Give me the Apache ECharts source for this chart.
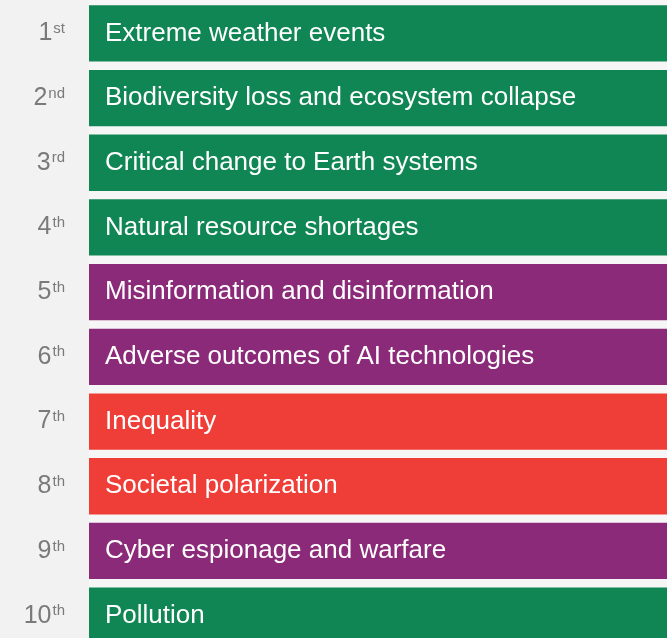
<!DOCTYPE html>
<html><head><meta charset="utf-8">
<script src="https://cdn.jsdelivr.net/npm/echarts@6/dist/echarts.min.js"></script>
<style>html,body{margin:0;padding:0;background:#f2f2f2;overflow:hidden;}#c{width:667px;height:648px;}</style>
</head><body><div id="c"></div>
<script>
var rankNumbers = ['1','2','3','4','5','6','7','8','9','10'];
var rankSuffixes = ['st','nd','rd','th','th','th','th','th','th','th'];
var risks = ['Extreme weather events','Biodiversity loss and ecosystem collapse','Critical change to Earth systems','Natural resource shortages','Misinformation and disinformation','Adverse outcomes of AI technologies','Inequality','Societal polarization','Cyber espionage and warfare','Pollution'];
var riskTypes = ['Environmental','Environmental','Environmental','Environmental','Technological','Technological','Societal','Societal','Technological','Environmental'];
var barValues = [1,1,1,1,1,1,1,1,1,1];
var typeColors = {Environmental:'#108654', Technological:'#8b2a78', Societal:'#ee3e37'};

var chart = echarts.init(document.getElementById('c'));
chart.setOption({
  backgroundColor:'#f2f2f2',
  animation:false,
  graphic:[{type:'rect', z:0, shape:{x:89, y:0, width:578, height:648}, style:{fill:'#f6f6f6'}}],
  grid:{left:89, right:0, top:1, bottom:0},
  xAxis:{type:'value', min:0, max:1, show:false},
  yAxis:{type:'category', inverse:true, data:risks.map(function(r,i){return i;}),
    axisLine:{show:false}, axisTick:{show:false}, splitLine:{show:false},
    axisLabel:{margin:24, align:'right',
      formatter:function(v,i){return '{n|'+rankNumbers[i]+'}{s|'+rankSuffixes[i]+'}';},
      rich:{
        n:{fontFamily:'Liberation Sans', fontSize:25, color:'#7a7a7a', lineHeight:24},
        s:{fontFamily:'Liberation Sans', fontSize:15, color:'#7a7a7a', verticalAlign:'top', lineHeight:14, padding:[0,0,0,1]}
      }}
  },
  series:[{type:'bar', z:2, barCategoryGap:'13%',
    data:barValues.map(function(v,i){return {value:v, itemStyle:{color:typeColors[riskTypes[i]]}};}),
    label:{show:true, position:'insideLeft', distance:16,
      formatter:function(p){return risks[p.dataIndex];},
      fontFamily:'Liberation Sans', fontSize:26, color:'#ffffff'}
  }]
});
</script></body></html>
